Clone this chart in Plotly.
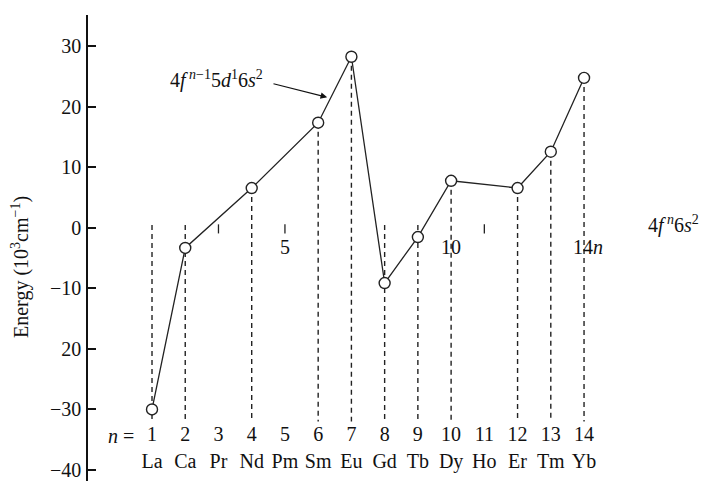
import plotly.graph_objects as go

# ---- data ----
n_all = list(range(1, 15))
elements = ["La", "Ca", "Pr", "Nd", "Pm", "Sm", "Eu", "Gd", "Tb", "Dy", "Ho", "Er", "Tm", "Yb"]
n_vals = [1, 2, 4, 6, 7, 8, 9, 10, 12, 13, 14]
energies = [-30.0, -3.3, 6.6, 17.4, 28.3, -9.1, -1.5, 7.8, 6.6, 12.6, 24.8]
y_tickvals = [30, 20, 10, 0, -10, -20, -30, -40]
y_ticktext = ["30", "20", "10", "0", "\u221210", "20", "\u221230", "\u221240"]
zero_ticks = [3, 5, 11]
zero_labels_pos = [5, 10, 14.12]
zero_labels = ["5", "10", "14<i>n</i>"]
drop_bottom = -32.0

FONT = "Liberation Serif"
fig = go.Figure()

# dashed drop lines
for n, e in zip(n_vals, energies):
    fig.add_trace(go.Scatter(
        x=[n, n], y=[max(e, 0.5), drop_bottom], mode="lines",
        line=dict(color="#222", width=1.4, dash="5px,4px"),
        hoverinfo="skip", showlegend=False))

# small ticks on the n axis at zero
for t in zero_ticks:
    fig.add_trace(go.Scatter(
        x=[t, t], y=[0.6, -0.9], mode="lines",
        line=dict(color="#222", width=1.3),
        hoverinfo="skip", showlegend=False))

# main curve
fig.add_trace(go.Scatter(
    x=n_vals, y=energies, mode="lines+markers",
    line=dict(color="#222", width=1.3),
    marker=dict(symbol="circle", size=11, color="white",
                line=dict(color="#222", width=1.4)),
    showlegend=False))

# n numbers and element labels
fig.add_trace(go.Scatter(
    x=n_all, y=[-34.3] * len(n_all), mode="text",
    text=[str(v) for v in n_all],
    textfont=dict(family=FONT, size=20, color="#111"),
    hoverinfo="skip", showlegend=False))
fig.add_trace(go.Scatter(
    x=n_all, y=[-38.9] * len(n_all), mode="text",
    text=elements,
    textfont=dict(family=FONT, size=20, color="#111"),
    hoverinfo="skip", showlegend=False))
fig.add_trace(go.Scatter(
    x=zero_labels_pos, y=[-3.4] * len(zero_labels_pos), mode="text",
    text=zero_labels,
    textfont=dict(family=FONT, size=20, color="#111"),
    hoverinfo="skip", showlegend=False))

annotations = [
    dict(x=0.08, y=-34.3, xref="x", yref="y", text="<i>n</i> =", showarrow=False,
         font=dict(family=FONT, size=20, color="#111")),
    dict(x=2.95, y=24.5, xref="x", yref="y",
         text="4<i>f</i><sup> <i>n</i>\u22121</sup>5<i>d</i><sup>1</sup>6<i>s</i><sup>2</sup>",
         showarrow=False, font=dict(family=FONT, size=20, color="#111")),
    dict(x=6.27, y=21.6, ax=4.61, ay=23.9, xref="x", yref="y", axref="x", ayref="y",
         text="", showarrow=True, arrowhead=2, arrowsize=1.2, arrowwidth=1.1, arrowcolor="#111"),
    dict(x=16.7, y=0.6, xref="x", yref="y",
         text="4<i>f</i><sup> <i>n</i></sup>6<i>s</i><sup>2</sup>",
         showarrow=False, font=dict(family=FONT, size=20, color="#111")),
    dict(x=(20 - 88) / 619, y=(481 - 267) / 466, xref="paper", yref="paper",
         xanchor="center", yanchor="middle",
         text="Energy (10<sup>3</sup>cm<sup>\u22121</sup>)", textangle=-90, showarrow=False,
         font=dict(family=FONT, size=20, color="#111")),
]

fig.update_layout(
    width=707, height=481,
    margin=dict(l=88, r=0, t=15, b=0),
    paper_bgcolor="white", plot_bgcolor="white",
    annotations=annotations,
    xaxis=dict(visible=False, range=[-0.926, 17.70]),
    yaxis=dict(range=[-41.82, 35.2], showgrid=False, zeroline=False,
               showline=True, linecolor="#111", linewidth=1.5,
               ticks="inside", ticklen=8, tickwidth=1.5, tickcolor="#111",
               tickvals=y_tickvals, ticktext=y_ticktext, ticklabelstandoff=1,
               ticklabeloverflow="allow",
               tickfont=dict(family=FONT, size=20, color="#111")),
)

fig.write_html("out.html")
